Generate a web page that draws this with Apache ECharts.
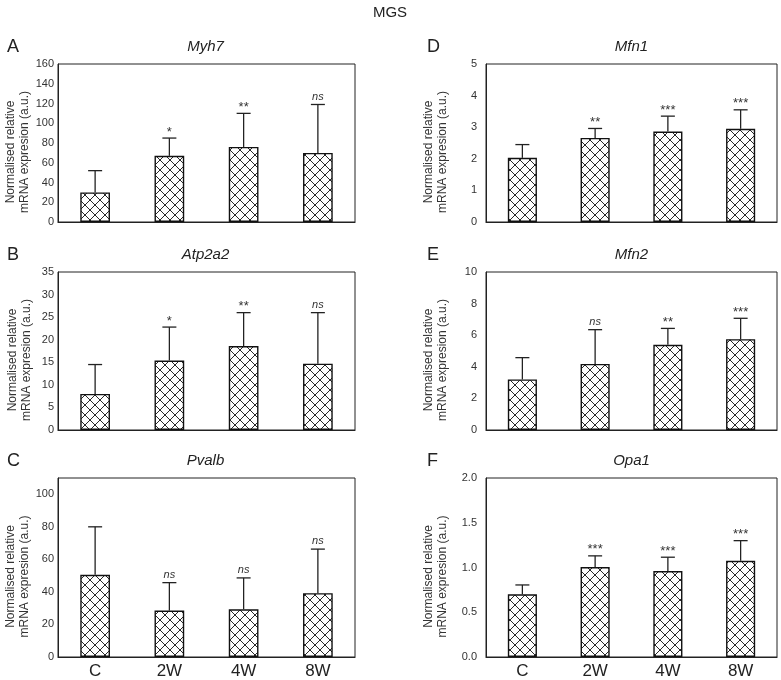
<!DOCTYPE html>
<html>
<head>
<meta charset="utf-8">
<title>MGS</title>
<script src="https://cdn.jsdelivr.net/npm/echarts@6/dist/echarts.min.js"></script>
<style>
  html, body { margin: 0; padding: 0; background: #fff; }
  #chart { width: 781px; height: 680px; }
</style>
</head>
<body>
<div id="chart"></div>
<script>
// groups on the x axis
const categories = ['C', '2W', '4W', '8W'];

// mean and upper SD, one set per gene
const myh7Mean = [30, 67, 76, 70];
const myh7Sd = [22, 18, 34, 49];
const myh7Sig = ['', '*', '**', 'ns'];

const atp2a2Mean = [8, 15.4, 18.6, 14.7];
const atp2a2Sd = [6.5, 7.4, 7.4, 11.3];
const atp2a2Sig = ['', '*', '**', 'ns'];

const pvalbMean = [50.5, 28.5, 29.3, 39.2];
const pvalbSd = [29.5, 17.2, 19.3, 27.1];
const pvalbSig = ['', 'ns', 'ns', 'ns'];

const mfn1Mean = [2.03, 2.66, 2.86, 2.95];
const mfn1Sd = [0.42, 0.3, 0.49, 0.6];
const mfn1Sig = ['', '**', '***', '***'];

const mfn2Mean = [3.2, 4.18, 5.39, 5.75];
const mfn2Sd = [1.38, 2.17, 1.04, 1.32];
const mfn2Sig = ['', 'ns', '**', '***'];

const opa1Mean = [0.7, 1.005, 0.96, 1.075];
const opa1Sd = [0.105, 0.125, 0.155, 0.225];
const opa1Sig = ['', '***', '***', '***'];

// y axis ranges
const yMax = [160, 35, 110, 5, 10, 2];
const yStep = [20, 5, 20, 1, 2, 0.5];

const yName = 'Normalised relative\nmRNA expresion (a.u.)';
const font = '"Liberation Sans", Arial, sans-serif';

// cross hatch fill for the bars
function hatch() {
    const c = document.createElement('canvas');
    c.width = 10;
    c.height = 10;
    const ctx = c.getContext('2d');
    ctx.fillStyle = '#fff';
    ctx.fillRect(0, 0, 10, 10);
    ctx.strokeStyle = '#2a2a2a';
    ctx.lineWidth = 1;
    ctx.beginPath();
    ;[-10, 0, 10].forEach(k => {
        ctx.moveTo(-2, -2 + k);
        ctx.lineTo(12, 12 + k);
    });
    ;[0, 10, 20].forEach(k => {
        ctx.moveTo(-2, k + 2);
        ctx.lineTo(12, k - 12);
    });
    ctx.stroke();
    return c;
}
const pattern = { image: hatch(), repeat: 'repeat' };

const panels = [
    { letter: 'A', gene: 'Myh7', mean: myh7Mean, sd: myh7Sd, sig: myh7Sig, left: 58, top: 64, width: 297, height: 158 },
    { letter: 'B', gene: 'Atp2a2', mean: atp2a2Mean, sd: atp2a2Sd, sig: atp2a2Sig, left: 58, top: 272, width: 297, height: 158 },
    { letter: 'C', gene: 'Pvalb', mean: pvalbMean, sd: pvalbSd, sig: pvalbSig, left: 58, top: 478, width: 297, height: 179 },
    { letter: 'D', gene: 'Mfn1', mean: mfn1Mean, sd: mfn1Sd, sig: mfn1Sig, left: 486, top: 64, width: 291, height: 158 },
    { letter: 'E', gene: 'Mfn2', mean: mfn2Mean, sd: mfn2Sd, sig: mfn2Sig, left: 486, top: 272, width: 291, height: 158 },
    { letter: 'F', gene: 'Opa1', mean: opa1Mean, sd: opa1Sd, sig: opa1Sig, left: 486, top: 478, width: 291, height: 179 }
];

const grid = [], xAxis = [], yAxis = [], series = [];
const graphic = [{
    type: 'text', x: 390, y: 13,
    style: { text: 'MGS', font: '15px ' + font, fill: '#222', textAlign: 'center', textVerticalAlign: 'middle' }
}];

panels.forEach((p, i) => {
    const rightCol = i >= 3;
    const bottomRow = i === 2 || i === 5;
    grid.push({
        left: p.left, top: p.top, width: p.width, height: p.height,
        show: true, borderColor: '#222', borderWidth: 1, backgroundColor: '#fff'
    });
    xAxis.push({
        type: 'category', gridIndex: i, data: categories,
        axisLine: { lineStyle: { color: '#222', width: 1.2 } },
        axisTick: { show: false },
        axisLabel: { show: bottomRow, fontSize: 17, color: '#222', fontFamily: font, margin: 6 }
    });
    yAxis.push({
        type: 'value', gridIndex: i, min: 0, max: yMax[i], interval: yStep[i],
        splitLine: { show: false },
        axisLine: { show: true, lineStyle: { color: '#222' } },
        axisTick: { show: false },
        axisLabel: {
            fontSize: 11, color: '#333', fontFamily: font, margin: rightCol ? 9 : 4, showMaxLabel: i !== 2,
            formatter: i === 5 ? v => v.toFixed(1) : null
        },
        name: yName, nameLocation: 'middle', nameRotate: 90, nameGap: rightCol ? 36 : 24,
        nameTextStyle: { fontSize: 12, lineHeight: 14, color: '#333', fontFamily: font, padding: [0, 18, 0, 0] }
    });

    series.push({
        type: 'bar', xAxisIndex: i, yAxisIndex: i,
        barWidth: '40%',
        data: p.mean,
        itemStyle: { color: pattern, borderColor: '#111', borderWidth: 1.4 },
        z: 2
    });
    // upper error bar plus significance mark
    series.push({
        type: 'custom', xAxisIndex: i, yAxisIndex: i, z: 3,
        data: p.mean.map((m, j) => [j, m, p.sd[j]]),
        renderItem: (params, api) => {
            const j = api.value(0);
            const base = api.coord([j, api.value(1)]);
            const top = api.coord([j, api.value(1) + api.value(2)]);
            const txt = p.sig[params.dataIndex];
            const children = [
                { type: 'line', shape: { x1: base[0], y1: base[1], x2: top[0], y2: top[1] }, style: { stroke: '#222', lineWidth: 1.3 } },
                { type: 'line', shape: { x1: top[0] - 7, y1: top[1], x2: top[0] + 7, y2: top[1] }, style: { stroke: '#222', lineWidth: 1.3 } }
            ];
            if (txt) {
                const isNs = txt === 'ns';
                children.push({
                    type: 'text', x: top[0], y: top[1] - (isNs ? 8 : 6),
                    style: {
                        text: txt, fill: '#333', textAlign: 'center', textVerticalAlign: 'middle',
                        font: (isNs ? 'italic 11px ' : '13px ') + font
                    }
                });
            }
            return { type: 'group', children };
        }
    });

    graphic.push({
        type: 'text', x: rightCol ? 427 : 7, y: p.top - 17,
        style: { text: p.letter, font: '18px ' + font, fill: '#222', textVerticalAlign: 'middle' }
    });
    graphic.push({
        type: 'text', x: p.left + p.width / 2 + (rightCol ? 0 : -1), y: p.top - 17,
        style: { text: p.gene, font: 'italic 15px ' + font, fill: '#222', textAlign: 'center', textVerticalAlign: 'middle' }
    });
});

const chart = echarts.init(document.getElementById('chart'));
chart.setOption({
    animation: false,
    backgroundColor: '#fff',
    grid, xAxis, yAxis, series, graphic
});
</script>
</body>
</html>
